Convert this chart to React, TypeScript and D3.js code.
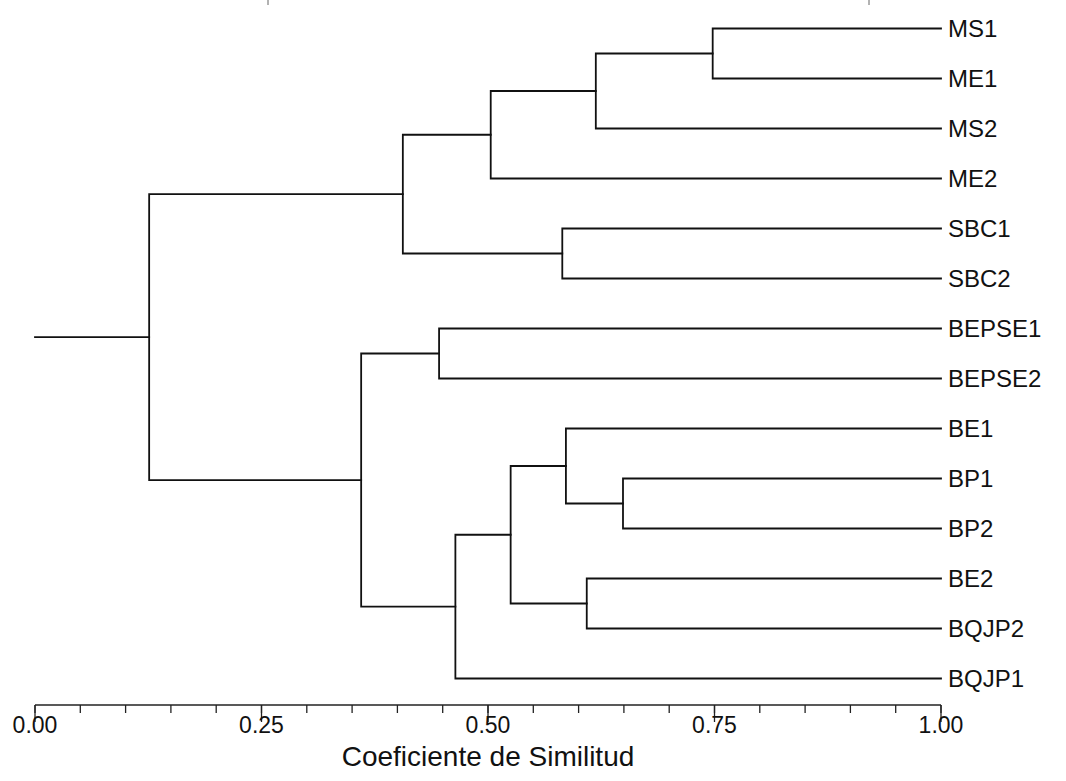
import React from "react";
import * as d3 from "d3";

// Leaves (top to bottom)
const leaves = ["MS1", "ME1", "MS2", "ME2", "SBC1", "SBC2", "BEPSE1", "BEPSE2", "BE1", "BP1", "BP2", "BE2", "BQJP2", "BQJP1"];

// Merges (agglomeration order) with similarity level
const nodeIds = ["n1", "n2", "n3", "n4", "n5", "n6", "n7", "n8", "n9", "n10", "n11", "n12", "n13"];
const nodeLeft = ["MS1", "n1", "n2", "SBC1", "n3", "BEPSE1", "BP1", "BE1", "BE2", "n8", "n10", "n6", "n5"];
const nodeRight = ["ME1", "MS2", "ME2", "SBC2", "n4", "BEPSE2", "BP2", "n7", "BQJP2", "n9", "BQJP1", "n11", "n12"];
const nodeHeight = [0.748, 0.619, 0.503, 0.582, 0.406, 0.446, 0.649, 0.586, 0.609, 0.525, 0.464, 0.36, 0.126];

// Axis
const tickValues = [0, 0.25, 0.5, 0.75, 1];
const tickLabels = ["0.00", "0.25", "0.50", "0.75", "1.00"];
const minorStep = 0.05;
const axisTitle = "Coeficiente de Similitud";

const W = 1066;
const H = 781;
const FONT = "'Liberation Sans', Arial, sans-serif";

export default function App() {
  const x = d3.scaleLinear().domain([0, 1]).range([35, 941]);
  const y = d3.scalePoint<string>().domain(leaves).range([28.5, 678.5]);

  const pos: Record<string, { h: number; y: number }> = {};
  leaves.forEach((l) => (pos[l] = { h: 1, y: y(l) as number }));
  const paths: string[] = [];
  nodeIds.forEach((id, i) => {
    const a = pos[nodeLeft[i]];
    const b = pos[nodeRight[i]];
    const h = nodeHeight[i];
    const p = d3.path();
    p.moveTo(x(a.h), a.y);
    p.lineTo(x(h), a.y);
    p.lineTo(x(h), b.y);
    p.lineTo(x(b.h), b.y);
    paths.push(p.toString());
    pos[id] = { h, y: (a.y + b.y) / 2 };
  });
  const root = pos[nodeIds[nodeIds.length - 1]];
  const stub = d3.path();
  stub.moveTo(x(0), root.y);
  stub.lineTo(x(root.h), root.y);
  paths.push(stub.toString());

  const minorTicks = d3.range(0, 1 + 1e-9, minorStep);
  const axisY = 705;

  return (
    <svg width={W} height={H} style={{ position: "absolute", left: 0, top: 0, background: "#fff" }}>
      <rect width={W} height={H} fill="#fff" />
      {/* faint marks at the top edge of the scan */}
      <g stroke="#666" strokeWidth={1}>
        <line x1={268} x2={268} y1={0} y2={5} />
        <line x1={869} x2={869} y1={0} y2={5} />
      </g>
      <g fill="none" stroke="#111" strokeWidth={1.8} strokeLinejoin="miter" strokeLinecap="square">
        {paths.map((d, i) => (
          <path key={i} d={d} />
        ))}
      </g>
      <g fontFamily={FONT} fontSize={24} fill="#111">
        {leaves.map((l) => (
          <text key={l} x={948} y={(y(l) as number) + 8.5}>
            {l}
          </text>
        ))}
      </g>
      <g stroke="#222" strokeWidth={1.3}>
        <line x1={x(0)} x2={x(1)} y1={axisY} y2={axisY} />
        {minorTicks.map((t, i) => (
          <line key={i} x1={x(t)} x2={x(t)} y1={axisY} y2={axisY + 8} />
        ))}
        {tickValues.map((t, i) => (
          <line key={"M" + i} x1={x(t)} x2={x(t)} y1={axisY} y2={axisY + 17} />
        ))}
      </g>
      <g fontFamily={FONT} fontSize={23} fill="#111" textAnchor="middle">
        {tickValues.map((t, i) => (
          <text key={i} x={x(t)} y={733}>
            {tickLabels[i]}
          </text>
        ))}
      </g>
      <text x={x(0.5)} y={766} textAnchor="middle" fontFamily={FONT} fontSize={28} fill="#111">
        {axisTitle}
      </text>
    </svg>
  );
}
